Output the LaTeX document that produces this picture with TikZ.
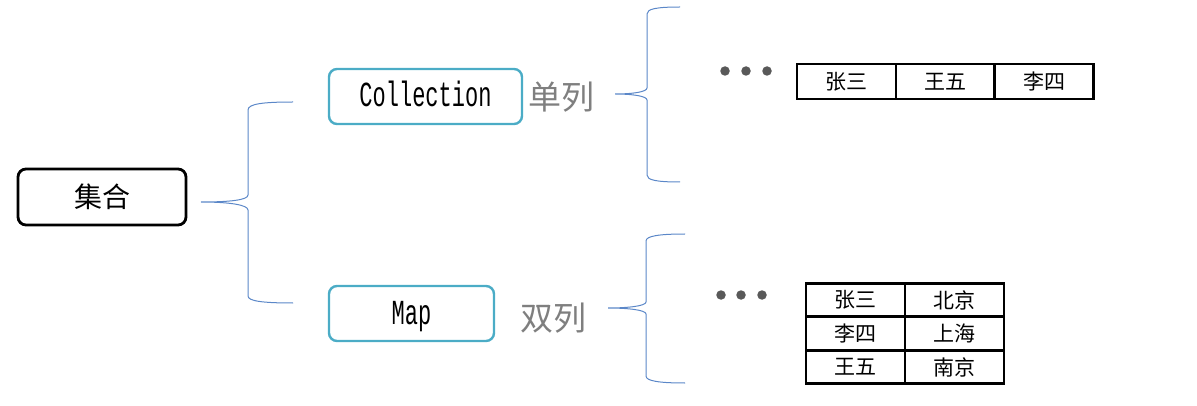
\documentclass[tikz,border=0pt]{standalone}
\usepackage{fontspec}
\usepackage{graphicx}
\newfontfamily\cjk{Noto Sans CJK SC}
\newfontfamily\codefont{Liberation Mono}
\definecolor{teal}{HTML}{4BACC6}
\definecolor{bracec}{HTML}{5B87C8}
\definecolor{graytxt}{HTML}{7F7F7F}
\definecolor{dotc}{HTML}{595959}
\newcommand{\tallcode}[1]{\scalebox{1}[1.6]{#1}}
\begin{document}
\begin{tikzpicture}[x=1pt,y=-1pt,
  rootbox/.style={draw=black,line width=2.8pt,rounded corners=8pt,inner sep=0pt},
  tealbox/.style={draw=teal,line width=2.4pt,rounded corners=8pt,inner sep=0pt,
    text height=27pt,text depth=6pt,font=\codefont\fontsize{22}{22}\selectfont},
  brace/.style={draw=bracec,line width=1pt},
  cell/.style={draw=black,line width=2.8pt,minimum width=99pt,inner sep=0pt,font=\cjk\fontsize{21}{21}\selectfont},
  lbl/.style={text=graytxt,font=\cjk\fontsize{33}{33}\selectfont,inner sep=0pt},
  dot/.style={circle,fill=dotc,inner sep=0pt,minimum size=9.5pt}]
\useasboundingbox (0,0) rectangle (1197,406);

% root
\node[rootbox,minimum width=168pt,minimum height=56pt,font=\cjk\fontsize{28}{28}\selectfont] (root) at (102,197) {集合};

% level 1 boxes
\node[tealbox,minimum width=193pt,minimum height=55pt] (coll) at (425.5,96.5) {\tallcode{Collection}};
\node[tealbox,minimum width=165pt,minimum height=55pt] (map) at (411.5,313.5) {\tallcode{Map}};

\node[lbl] (single) at (561,97) {单列};
\node[lbl] (double) at (553,318) {双列};

% brace 1
\coordinate (b1tip) at (201,202);
\draw[brace] (293,102) .. controls (262,102) and (248,104) .. (248,110) -- (248,195)
  .. controls (248,200) and (230,202) .. (b1tip)
  .. controls (230,202) and (248,205) .. (248,210) -- (248,296)
  .. controls (248,301) and (262,303) .. (293,303);

% brace 2
\coordinate (b2tip) at (615,94);
\draw[brace] (680,7) .. controls (656,7) and (647,9) .. (647,14) -- (647,88)
  .. controls (647,92) and (632,94) .. (b2tip)
  .. controls (632,94) and (647,96) .. (647,100) -- (647,175)
  .. controls (647,180) and (656,182) .. (680,182);

% brace 3
\coordinate (b3tip) at (608,308);
\draw[brace] (685,234) .. controls (659,234) and (646,236) .. (646,241) -- (646,302)
  .. controls (646,306) and (628,308) .. (b3tip)
  .. controls (628,308) and (646,310) .. (646,314) -- (646,376)
  .. controls (646,381) and (659,383) .. (685,383);

% dots
\node[dot] (d1) at (725,71) {};
\node[dot] (d2) at (746,71) {};
\node[dot] (d3) at (767,71) {};
\node[dot] (d4) at (721,295) {};
\node[dot] (d5) at (741,295) {};
\node[dot] (d6) at (762,295) {};

% table 1
\node[cell,minimum height=35pt] (t11) at (846.5,81.5) {张三};
\node[cell,minimum height=35pt] (t12) at (945.5,81.5) {王五};
\node[cell,minimum height=35pt] (t13) at (1044,81.5) {李四};

% table 2
\node[cell,minimum height=33.5pt] (u11) at (855.5,300) {张三};
\node[cell,minimum height=33.5pt] (u12) at (954.5,300) {北京};
\node[cell,minimum height=33.5pt] (u21) at (855.5,333.5) {李四};
\node[cell,minimum height=33.5pt] (u22) at (954.5,333.5) {上海};
\node[cell,minimum height=33.5pt] (u31) at (855.5,367) {王五};
\node[cell,minimum height=33.5pt] (u32) at (954.5,367) {南京};
\end{tikzpicture}
\end{document}
